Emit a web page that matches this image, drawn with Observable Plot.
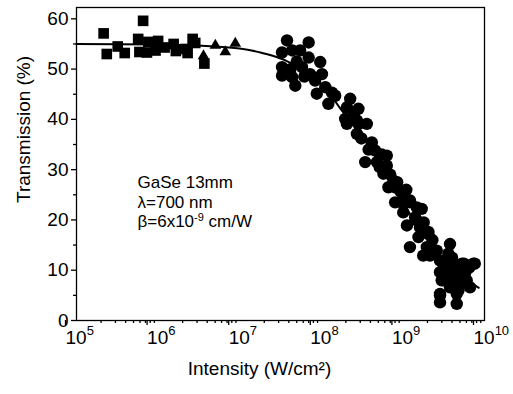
<!DOCTYPE html>
<html><head><meta charset="utf-8">
<script src="https://cdn.jsdelivr.net/npm/d3@7"></script>
<script src="https://cdn.jsdelivr.net/npm/@observablehq/plot@0.6"></script>
<style>
html,body{margin:0;padding:0;background:#fff;}
</style>
</head><body>
<div id="chart"></div>
<script>
// ---- data (Intensity W/cm^2, Transmission %) ----
const squares = [
  [2.15e5,57.1],[2.35e5,53.0],[3.2e5,54.5],[3.9e5,53.2],[6.55e5,59.6],[5.7e5,56.0],
  [5.9e5,53.4],[7.6e5,55.4],[7.3e5,53.3],[1.0e6,55.6],[9.3e5,53.7],[1.2e6,54.3],
  [1.55e6,55.0],[1.65e6,53.6],[2.15e6,54.0],[2.3e6,53.2],[2.65e6,56.0],[2.85e6,55.2],
  [3.69e6,51.1]
];
const triangles = [[3.6e6,52.6],[5.03e6,54.7],[6.66e6,53.4],[8.83e6,55.1]];
const circles = [
  [3.3e7,53.3],[3.3e7,50.4],[3.3e7,48.7],[3.8e7,55.7],[4.2e7,50.0],[4.4e7,53.7],[4.4e7,48.4],
  [4.8e7,46.7],[5.0e7,51.5],[5.5e7,53.7],[5.8e7,50.4],[6.2e7,48.5],[7.0e7,55.3],[7.0e7,52.3],
  [7.3e7,49.0],[8.4e7,47.7],[8.8e7,45.1],[9.7e7,51.4],[1.02e8,49.0],[1.12e8,46.4],[1.22e8,43.1],
  [1.35e8,45.3],[1.48e8,44.7],[1.96e8,40.1],[2.06e8,42.4],[2.26e8,44.1],[2.5e8,41.0],[2.73e8,39.8],
  [2.85e8,42.1],
  [2.06e8,39.1],[2.85e8,39.1],[3.61e8,39.1],[2.73e8,37.1],[3.1e8,36.2],[4.16e8,35.4],[3.8e8,34.0],
  [4.57e8,33.8],[5.5e8,33.0],[6.35e8,32.8],[3.45e8,31.5],[4.8e8,31.5],[5.2e8,30.5],[6.35e8,30.8],
  [5.77e8,29.2],[7.0e8,29.0],[7.65e8,27.8],[6.65e8,26.5],[8.03e8,26.5],[9.24e8,25.8],[8.5e8,27.5],
  [1.01e9,24.9],[1.1e9,26.0],[8.03e8,23.5],[1.22e9,23.9],[1.01e9,23.2],[1.22e9,23.5],[1.48e9,22.5],
  [1.70e9,22.2],[1.01e9,21.5],[1.41e9,20.5],[1.48e9,19.9],[1.12e9,18.9],[1.62e9,18.5],[1.8e9,19.5],
  [2.05e9,17.6],[2.05e9,17.2],[1.55e9,16.6],
  [1.22e9,14.6],[1.96e9,14.6],[2.3e9,16.0],[2.6e9,13.9],[1.77e9,12.9],[2.15e9,12.9],[2.85e9,11.9],
  [3.78e9,15.2],[3.61e9,13.3],[3.3e9,12.0],[4.0e9,12.5],[4.5e9,11.0],[5.3e9,11.3],[5.6e9,11.3],
  [7.3e9,11.3],[7.6e9,11.3],[3.97e9,10.3],[5.5e9,10.3],[3.13e9,9.9],[2.85e9,9.6],[4.57e9,9.3],
  [5.0e9,9.5],[5.8e9,9.5],[6.5e9,10.5],[3.5e9,9.0],[4.35e9,8.6],[2.99e9,8.0],[3.13e9,8.0],
  [6.05e9,8.0],[4.2e9,7.0],[5.01e9,7.3],[6.65e9,6.6],[3.78e9,6.6],[4.8e9,6.0],[2.85e9,5.3],
  [2.85e9,5.0],[4.57e9,5.3],[2.85e9,3.6],[4.57e9,3.3]
];
const fitCurve = [
  [1e5,55.0],[1e6,54.9],[3e6,54.7],[1e7,54.1],[2e7,53.1],[4e7,51.4],[1e8,47.0],[1.74e8,42.0],
  [4e8,34.2],[1e9,23.4],[2e9,16.2],[4e9,10.5],[8.5e9,6.5]
];
const xTicks = [1e5,1e6,1e7,1e8,1e9,1e10];
const xTickLabels = ["10^5","10^6","10^7","10^8","10^9","10^10"];
const yTicks = [0,10,20,30,40,50,60];
const yMinor = [5,15,25,35,45,55];
const xMinor = [];
for (let e = 5; e < 10; e++) for (let m = 2; m <= 9; m++) xMinor.push(m * 10 ** e);
const xTitle = "Intensity (W/cm²)";
const yTitle = "Transmission (%)";
const annotation = ["GaSe 13mm", "λ=700 nm", "β=6x10^{-9} cm/W"];

const toObj = a => a.map(([I, T]) => ({I, T}));

const chart = Plot.plot({
  width: 513, height: 394,
  marginLeft: 76, marginRight: 29, marginTop: 7, marginBottom: 74,
  style: {fontFamily: '"Liberation Sans", Arial, Helvetica, sans-serif', background: "#fff", color: "#000"},
  x: {type: "log", domain: [1e5, 1e10], label: null},
  y: {domain: [0, 62.25], label: null},
  marks: [
    Plot.axisY({ticks: yTicks, tickSize: 5, tickPadding: 3, fontSize: 19, strokeWidth: 1.3, label: null}),
    Plot.axisY({ticks: yMinor, tickSize: 3, tickFormat: () => "", strokeWidth: 1.3, label: null}),
    Plot.axisX({ticks: xTicks, tickSize: 5, tickPadding: 5, fontSize: 19, textAnchor: "start", dx: -11,
      tickFormat: d => xTickLabels[xTicks.indexOf(d)], strokeWidth: 1.3, label: null}),
    Plot.axisX({ticks: xMinor, tickSize: 3, tickFormat: () => "", strokeWidth: 1.3, label: null}),
    Plot.dot(toObj(circles), {x: "I", y: "T", r: 6.2, fill: "#000"}),
    Plot.dot(toObj(squares), {x: "I", y: "T", symbol: "square", r: 6, fill: "#000"}),
    Plot.dot(toObj(triangles), {x: "I", y: "T", symbol: "triangle", r: 4.3, fill: "#000"}),
    Plot.line(toObj(fitCurve), {x: "I", y: "T", curve: "natural", stroke: "#000", strokeWidth: 2}),
    Plot.frame({stroke: "#000", strokeWidth: 1.3}),
    Plot.text([yTitle], {text: d => d, frameAnchor: "left", rotate: -90, dx: -53, dy: 39, fontSize: 19}),
    Plot.text([xTitle], {text: d => d, frameAnchor: "bottom", dx: -21, dy: 54, fontSize: 19}),
    Plot.text([annotation[0]], {text: d => d, frameAnchor: "top-left", textAnchor: "start", lineAnchor: "bottom", dx: 61, dy: 180, fontSize: 17}),
    Plot.text([annotation[1]], {text: d => d, frameAnchor: "top-left", textAnchor: "start", lineAnchor: "bottom", dx: 61, dy: 200, fontSize: 17}),
    Plot.text([annotation[2]], {text: d => d, frameAnchor: "top-left", textAnchor: "start", lineAnchor: "bottom", dx: 61, dy: 219, fontSize: 17})
  ]
});
document.getElementById("chart").appendChild(chart);

// turn "a^b" / "a^{b}rest" into real superscript tspans
function supify(sel, supSize, shift) {
  sel.each(function() {
    if (this.querySelector("tspan")) return;
    const s = this.textContent;
    const m = s.match(/^(.*?)\^\{([^}]*)\}(.*)$/) || s.match(/^(.*?)\^(\S+)()$/);
    if (!m) return;
    this.textContent = "";
    const t = d3.select(this);
    t.append("tspan").text(m[1]);
    t.append("tspan").attr("dy", -shift).attr("font-size", supSize).text(m[2]);
    if (m[3]) t.append("tspan").attr("dy", shift).text(m[3]);
  });
}
supify(d3.select(chart).selectAll('g[aria-label="x-axis tick label"] text'), 13, 9);
supify(d3.select(chart).selectAll('text'), 11, 6);
</script>
</body></html>
